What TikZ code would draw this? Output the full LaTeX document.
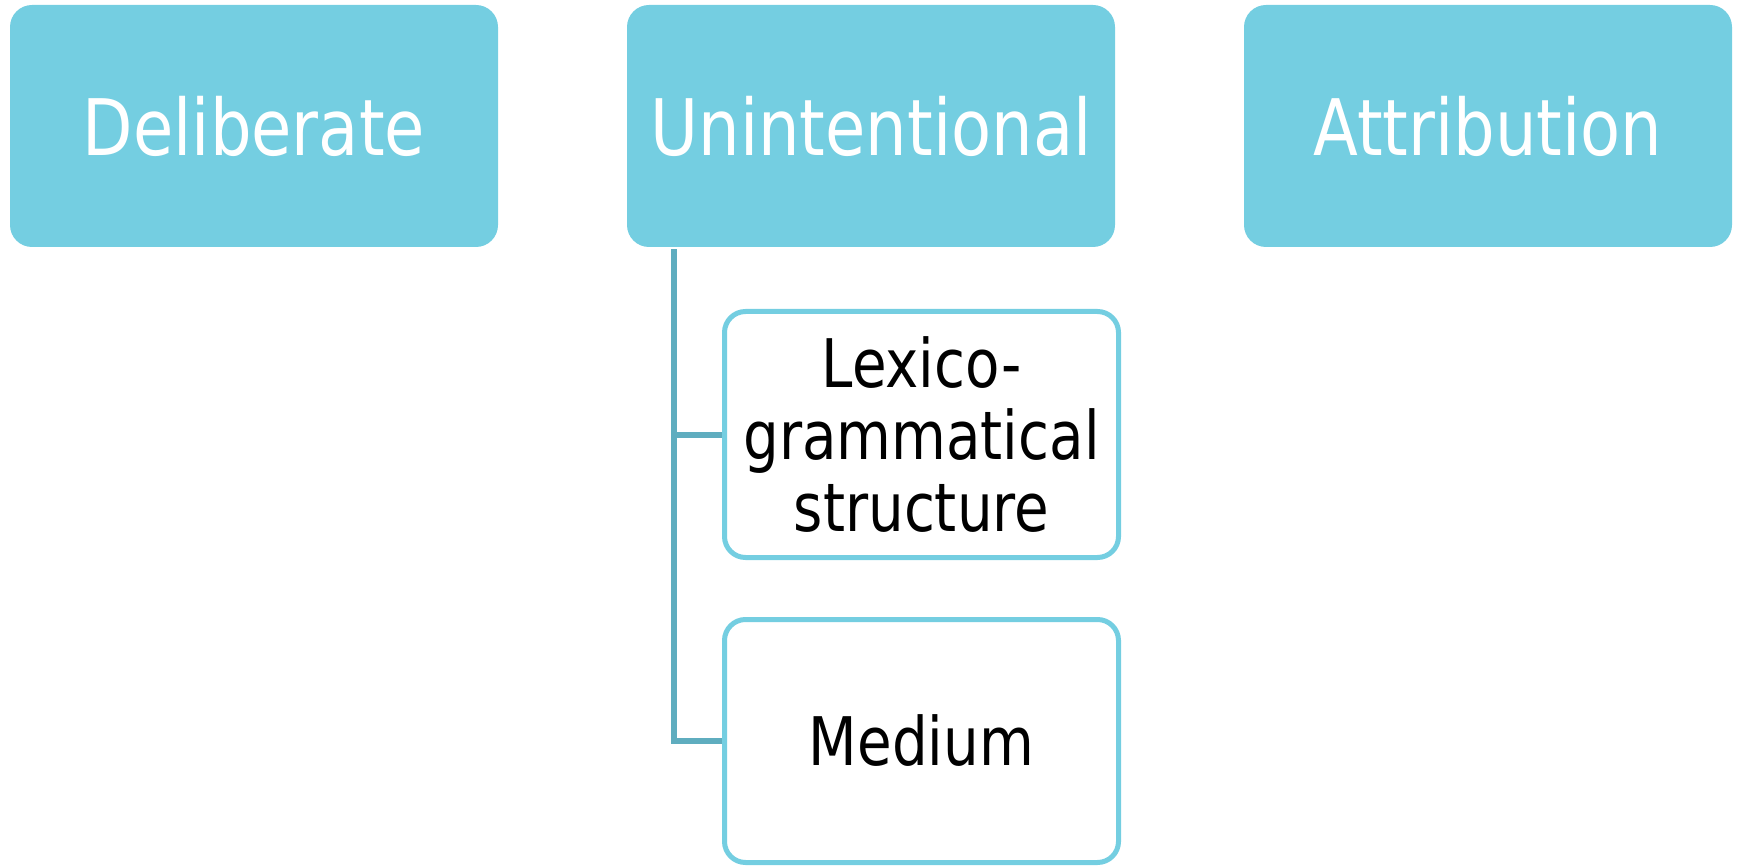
\documentclass[tikz,border=0pt]{standalone}
\usepackage{fontspec}
\setmainfont[FakeStretch=0.84]{DejaVu Sans}
\definecolor{boxblue}{RGB}{116,206,225}
\definecolor{connteal}{RGB}{95,173,191}
\begin{document}
\begin{tikzpicture}[x=1pt,y=-1pt,
  topbox/.style={fill=boxblue, draw=none, rounded corners=22pt, minimum width=488pt, minimum height=242pt, inner sep=0pt, text=white, font=\fontsize{78}{90}\selectfont},
  subbox/.style={fill=white, draw=boxblue, line width=5pt, rounded corners=21pt, minimum width=394pt, inner sep=0pt, text=black, align=center, font=\fontsize{67}{72}\selectfont},
  conn/.style={draw=connteal, line width=6pt, line join=miter}]
\useasboundingbox (0,0) rectangle (1737,866);
\node[topbox] (delib) at (254,126) {Deliberate};
\node[topbox] (unint) at (871,126) {Unintentional};
\node[topbox] (attr) at (1488,126) {Attribution};
\node[subbox, minimum height=246pt] (lex) at (921.5,434.5) {Lexico-\\grammatical\\structure};
\node[subbox, minimum height=243pt] (med) at (921.5,741) {Medium};
\coordinate (trunk) at ([xshift=47pt,yshift=-2pt]unint.south west);
\draw[conn] (trunk) |- (lex.west);
\draw[conn] (trunk) |- (med.west);
\end{tikzpicture}
\end{document}
